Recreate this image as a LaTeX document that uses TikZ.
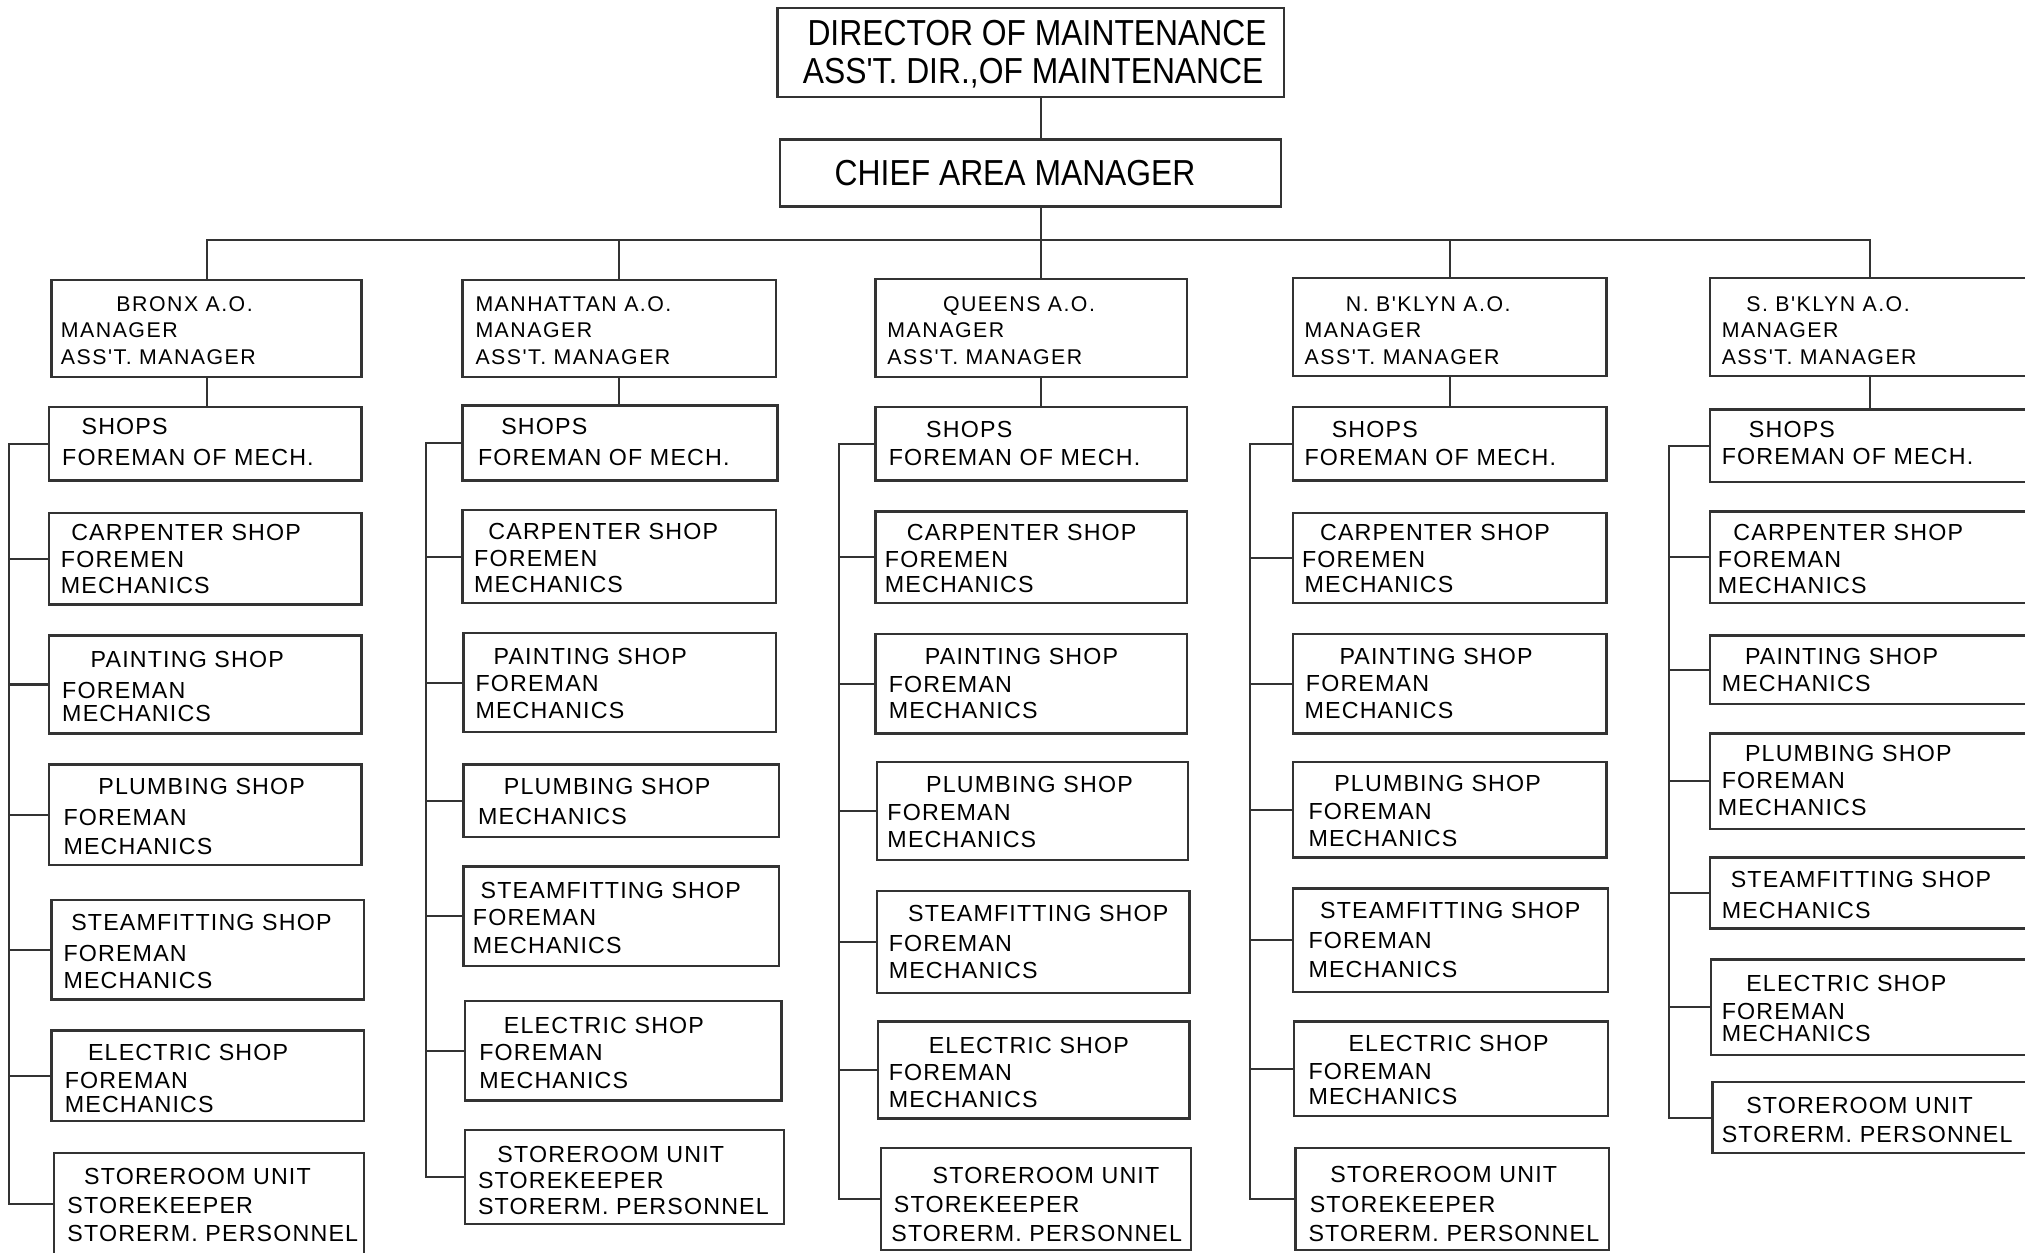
\documentclass[tikz,border=0pt]{standalone}
\usepackage{fontspec}
\setmainfont{Liberation Sans}
\newfontfamily\topfont{Liberation Sans}[FakeStretch=0.88]
\newfontfamily\shopfont{Liberation Sans}[LetterSpace=5]
\newfontfamily\areafont{Liberation Sans}[LetterSpace=7]
\usetikzlibrary{calc}
\newcommand\ubox[7][tl]{%
  \node[obox, minimum width={(#5-#3)*1pt}, minimum height={(#6-#4)*1pt}] (#2) at (#3,#4) {};
  \foreach \tx/\ty/\tw [count=\ti] in {#7} {\node[#1] (#2-\ti) at (\tx,\ty) {\tw};}%
}
\begin{document}
\begin{tikzpicture}[x=1pt,y=-1pt,
  obox/.style={draw=black!80, line width=1.8pt, rectangle, inner sep=0pt, outer sep=0pt, anchor=north west},
  tl/.style={anchor=base west, inner sep=0pt, font=\shopfont\fontsize{18}{18}\selectfont, yshift=-6.5pt},
  al/.style={anchor=base west, inner sep=0pt, font=\areafont\fontsize{16.5}{16.5}\selectfont, yshift=-6pt},
  big/.style={anchor=base, inner sep=0pt, font=\topfont\fontsize{28}{28}\selectfont, yshift=-10pt},
  conn/.style={draw=black!80, line width=1.6pt},
]
\fill[white] (0,0) rectangle (1568,970);
\useasboundingbox (0,0) rectangle (1568,970);

% top
\ubox[big]{dir}{602}{6}{994}{75}{803/25/DIRECTOR OF MAINTENANCE, 800/55/ASS'T. DIR.{,}OF MAINTENANCE}
\ubox[big]{chief}{604}{108}{992}{160}{786/134/CHIEF AREA MANAGER}

% area boxes
\ubox[al]{bronx}{40}{217}{280}{292}{90/235/BRONX A.O., 47/255/MANAGER, 47/276/ASS'T. MANAGER}
\ubox[al]{manh}{358}{217}{601}{292}{368/235/MANHATTAN A.O., 368/255/MANAGER, 368/276/ASS'T. MANAGER}
\ubox[al]{queens}{678}{216}{919}{292}{730/235/QUEENS A.O., 687/255/MANAGER, 687/276/ASS'T. MANAGER}
\ubox[al]{nbk}{1001}{215}{1244}{291}{1042/235/N. B'KLYN A.O., 1010/255/MANAGER, 1010/276/ASS'T. MANAGER}
\ubox[al]{sbk}{1324}{215}{1572}{291}{1352/235/S. B'KLYN A.O., 1333/255/MANAGER, 1333/276/ASS'T. MANAGER}

% Bronx column
\ubox{b1}{38}{315}{280}{372}{63/330/SHOPS, 48/354/FOREMAN OF MECH.}
\ubox{b2}{38}{397}{280}{468}{55/412/CARPENTER SHOP, 47/433/FOREMEN, 47/453/MECHANICS}
\ubox{b3}{38}{492}{280}{568}{70/510/PAINTING SHOP, 48/534/FOREMAN, 48/552/MECHANICS}
\ubox{b4}{38}{592}{280}{670}{76/609/PLUMBING SHOP, 49/633/FOREMAN, 49/655/MECHANICS}
\ubox{b5}{40}{697}{282}{774}{55/714/STEAMFITTING SHOP, 49/738/FOREMAN, 49/759/MECHANICS}
\ubox{b6}{40}{798}{282}{868}{68/815/ELECTRIC SHOP, 50/836/FOREMAN, 50/855/MECHANICS}
\ubox{b7}{42}{893}{282}{972}{65/911/STOREROOM UNIT, 52/933/STOREKEEPER, 52/955/STORERM. PERSONNEL}

% Manhattan column
\ubox{m1}{358}{314}{602}{372}{388/330/SHOPS, 370/354/FOREMAN OF MECH.}
\ubox{m2}{358}{395}{601}{467}{378/411/CARPENTER SHOP, 367/432/FOREMEN, 367/452/MECHANICS}
\ubox{m3}{359}{490}{601}{567}{382/508/PAINTING SHOP, 368/529/FOREMAN, 368/550/MECHANICS}
\ubox{m4}{359}{592}{603}{648}{390/609/PLUMBING SHOP, 370/632/MECHANICS}
\ubox{m5}{359}{671}{603}{748}{372/689/STEAMFITTING SHOP, 366/710/FOREMAN, 366/732/MECHANICS}
\ubox{m6}{360}{775}{605}{852}{390/794/ELECTRIC SHOP, 371/815/FOREMAN, 371/836/MECHANICS}
\ubox{m7}{360}{875}{607}{948}{385/894/STOREROOM UNIT, 370/914/STOREKEEPER, 370/934/STORERM. PERSONNEL}

% Queens column
\ubox{q1}{678}{315}{919}{372}{717/332/SHOPS, 688/354/FOREMAN OF MECH.}
\ubox{q2}{678}{396}{919}{467}{702/412/CARPENTER SHOP, 685/433/FOREMEN, 685/452/MECHANICS}
\ubox{q3}{678}{491}{919}{568}{716/508/PAINTING SHOP, 688/530/FOREMAN, 688/550/MECHANICS}
\ubox{q4}{679}{590}{920}{666}{717/607/PLUMBING SHOP, 687/629/FOREMAN, 687/650/MECHANICS}
\ubox{q5}{679}{690}{921}{769}{703/707/STEAMFITTING SHOP, 688/730/FOREMAN, 688/751/MECHANICS}
\ubox{q6}{680}{791}{921}{866}{719/809/ELECTRIC SHOP, 688/830/FOREMAN, 688/851/MECHANICS}
\ubox{q7}{682}{889}{922}{968}{722/910/STOREROOM UNIT, 692/932/STOREKEEPER, 690/955/STORERM. PERSONNEL}

% N. B'klyn column
\ubox{n1}{1001}{315}{1244}{372}{1031/332/SHOPS, 1010/354/FOREMAN OF MECH.}
\ubox{n2}{1001}{397}{1244}{467}{1022/412/CARPENTER SHOP, 1008/433/FOREMEN, 1010/452/MECHANICS}
\ubox{n3}{1001}{491}{1244}{568}{1037/508/PAINTING SHOP, 1011/529/FOREMAN, 1010/550/MECHANICS}
\ubox{n4}{1001}{590}{1244}{664}{1033/606/PLUMBING SHOP, 1013/628/FOREMAN, 1013/649/MECHANICS}
\ubox{n5}{1001}{688}{1245}{768}{1022/705/STEAMFITTING SHOP, 1013/728/FOREMAN, 1013/750/MECHANICS}
\ubox{n6}{1002}{791}{1245}{864}{1044/808/ELECTRIC SHOP, 1013/829/FOREMAN, 1013/849/MECHANICS}
\ubox{n7}{1003}{889}{1246}{968}{1030/909/STOREROOM UNIT, 1014/932/STOREKEEPER, 1013/955/STORERM. PERSONNEL}

% S. B'klyn column
\ubox{s1}{1324}{317}{1572}{373}{1354/332/SHOPS, 1333/353/FOREMAN OF MECH.}
\ubox{s2}{1324}{396}{1572}{467}{1342/412/CARPENTER SHOP, 1330/433/FOREMAN, 1330/453/MECHANICS}
\ubox{s3}{1324}{492}{1572}{545}{1351/508/PAINTING SHOP, 1333/529/MECHANICS}
\ubox{s4}{1324}{568}{1572}{642}{1351/583/PLUMBING SHOP, 1333/604/FOREMAN, 1330/625/MECHANICS}
\ubox{s5}{1324}{664}{1572}{719}{1340/681/STEAMFITTING SHOP, 1333/705/MECHANICS}
\ubox{s6}{1325}{743}{1572}{817}{1352/761/ELECTRIC SHOP, 1333/783/FOREMAN, 1333/800/MECHANICS}
\ubox{s7}{1326}{838}{1572}{893}{1352/856/STOREROOM UNIT, 1333/878/STORERM. PERSONNEL}

% spine and top bus
\coordinate (spine) at (806,0);
\coordinate (hbus) at (0,186);
\draw[conn] (dir.south -| spine) -- (chief.north -| spine);
\draw[conn] (chief.south -| spine) -- (spine |- hbus);
\draw[conn] (bronx.north) -- (bronx.north |- hbus) -- (sbk.north |- hbus) -- (sbk.north);
\draw[conn] (manh.north) -- (manh.north |- hbus);
\draw[conn] (queens.north -| spine) -- (spine |- hbus);
\draw[conn] (nbk.north) -- (nbk.north |- hbus);

% area to shops
\draw[conn] (bronx.south) -- (bronx.south |- b1.north);
\draw[conn] (manh.south) -- (manh.south |- m1.north);
\draw[conn] (queens.south -| spine) -- (q1.north -| spine);
\draw[conn] (nbk.south) -- (nbk.south |- n1.north);
\draw[conn] (sbk.south) -- (sbk.south |- s1.north);

% column buses
\coordinate (Bbus) at (7,0);
\coordinate (Mbus) at (330,0);
\coordinate (Qbus) at (650,0);
\coordinate (Nbus) at (968,0);
\coordinate (Sbus) at (1292,0);
\foreach \p/\c in {b/Bbus, m/Mbus, q/Qbus, n/Nbus, s/Sbus}{
  \draw[conn] (\p1.west) -- (\p1.west -| \c) -- (\p7.west -| \c) -- (\p7.west);
  \foreach \k in {2,...,6} \draw[conn] (\p\k.west) -- (\p\k.west -| \c);
}
\end{tikzpicture}
\end{document}
